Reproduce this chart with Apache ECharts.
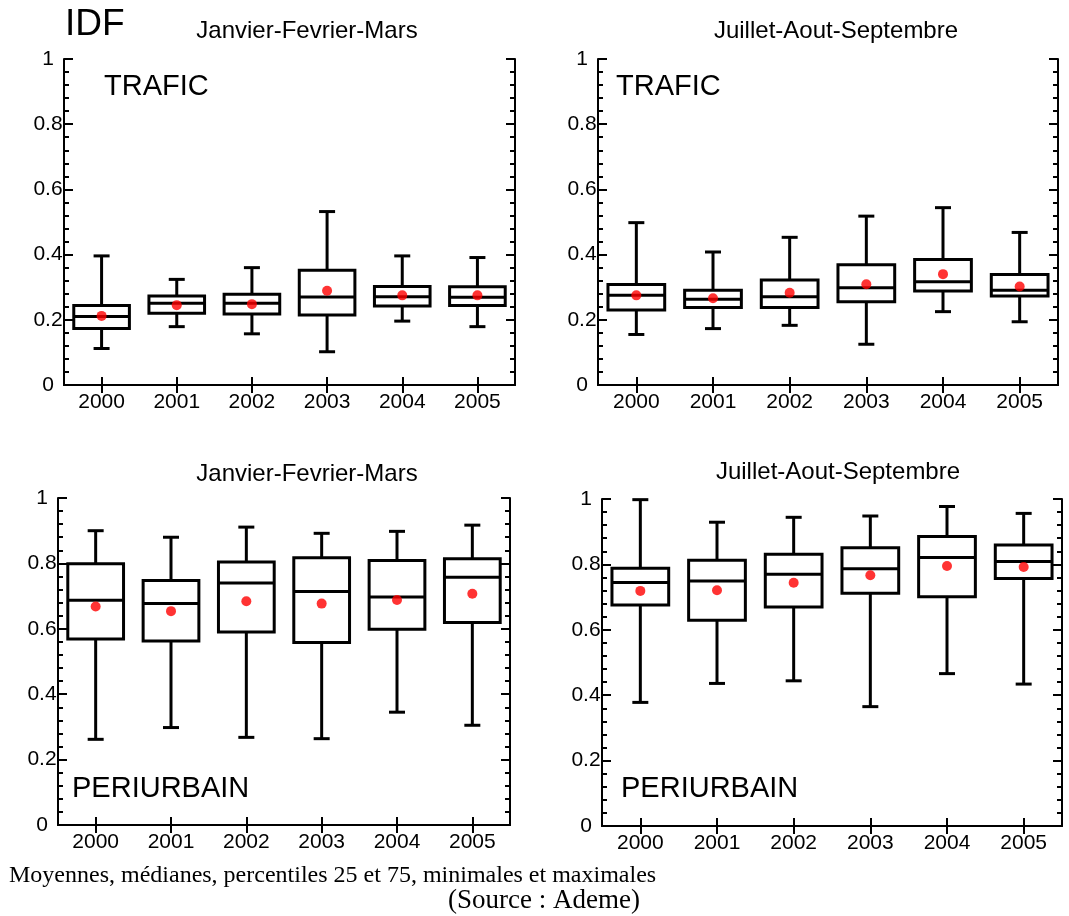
<!DOCTYPE html>
<html>
<head>
<meta charset="utf-8">
<script src="https://cdn.jsdelivr.net/npm/echarts@6/dist/echarts.min.js"></script>
<style>
	html, body {
		margin: 0;
		padding: 0;
		background: #fff;
	}

	#IdfChart {
		width: 1069px;
		height: 916px;
	}
</style>
</head>
<body>
<div id="IdfChart"></div>
<script>
	/* categories */
	const years = ['2000', '2001', '2002', '2003', '2004', '2005'];

	/* TRAFIC - Janvier-Fevrier-Mars */
	const trafJfmMin = [0.112, 0.179, 0.157, 0.102, 0.196, 0.179];
	const trafJfmQ1 = [0.173, 0.220, 0.218, 0.215, 0.242, 0.244];
	const trafJfmMed = [0.210, 0.251, 0.251, 0.270, 0.271, 0.269];
	const trafJfmQ3 = [0.244, 0.273, 0.278, 0.352, 0.302, 0.301];
	const trafJfmMax = [0.396, 0.324, 0.360, 0.532, 0.396, 0.391];
	const trafJfmMean = [0.212, 0.245, 0.248, 0.289, 0.275, 0.275];

	/* TRAFIC - Juillet-Aout-Septembre */
	const trafJasMin = [0.155, 0.173, 0.183, 0.125, 0.225, 0.194];
	const trafJasQ1 = [0.230, 0.238, 0.238, 0.255, 0.288, 0.273];
	const trafJasMed = [0.275, 0.263, 0.271, 0.298, 0.317, 0.291];
	const trafJasQ3 = [0.308, 0.291, 0.322, 0.369, 0.385, 0.339];
	const trafJasMax = [0.498, 0.408, 0.453, 0.518, 0.544, 0.468];
	const trafJasMean = [0.275, 0.266, 0.283, 0.309, 0.340, 0.302];

	/* PERIURBAIN - Janvier-Fevrier-Mars */
	const periJfmMin = [0.262, 0.298, 0.268, 0.264, 0.345, 0.305];
	const periJfmQ1 = [0.569, 0.563, 0.590, 0.558, 0.599, 0.619];
	const periJfmMed = [0.687, 0.677, 0.740, 0.714, 0.697, 0.758];
	const periJfmQ3 = [0.799, 0.748, 0.804, 0.817, 0.809, 0.814];
	const periJfmMax = [0.900, 0.880, 0.911, 0.892, 0.898, 0.917];
	const periJfmMean = [0.668, 0.654, 0.684, 0.677, 0.688, 0.707];

	/* PERIURBAIN - Juillet-Aout-Septembre */
	const periJasMin = [0.378, 0.436, 0.444, 0.365, 0.466, 0.434];
	const periJasQ1 = [0.676, 0.629, 0.670, 0.712, 0.701, 0.757];
	const periJasMed = [0.745, 0.749, 0.770, 0.787, 0.821, 0.809];
	const periJasQ3 = [0.788, 0.813, 0.831, 0.851, 0.885, 0.859];
	const periJasMax = [0.998, 0.929, 0.944, 0.948, 0.977, 0.956];
	const periJasMean = [0.719, 0.721, 0.744, 0.767, 0.795, 0.792];

	/* y tick values */
	const yMin = 0;
	const yMax = 1;
	const yStep = 0.2;

	const FONT = '"Liberation Sans", Arial, sans-serif';
	const SERIF = '"Liberation Serif", "Times New Roman", serif';

	let myChart;

	const panels = [
		{ grid: { left: 64, top: 59, width: 451, height: 326 }, s: [trafJfmMin, trafJfmQ1, trafJfmMed, trafJfmQ3, trafJfmMax, trafJfmMean] },
		{ grid: { left: 598, top: 59, width: 460, height: 326 }, s: [trafJasMin, trafJasQ1, trafJasMed, trafJasQ3, trafJasMax, trafJasMean] },
		{ grid: { left: 58, top: 498, width: 452, height: 327 }, s: [periJfmMin, periJfmQ1, periJfmMed, periJfmQ3, periJfmMax, periJfmMean] },
		{ grid: { left: 602, top: 499, width: 460, height: 327 }, s: [periJasMin, periJasQ1, periJasMed, periJasQ3, periJasMax, periJasMean] }
	];

	/* draw one box with whiskers */
	function renderBox(params, api) {
		let x = api.value(0);
		let lo = api.coord([x, api.value(1)]);
		let q1 = api.coord([x, api.value(2)]);
		let med = api.coord([x, api.value(3)]);
		let q3 = api.coord([x, api.value(4)]);
		let hi = api.coord([x, api.value(5)]);
		let half = api.size([1, 0])[0] * 0.37;
		let cap = 8;
		let cx = lo[0];
		let st = { stroke: '#000', lineWidth: 3, fill: null };
		return {
			type: 'group',
			children: [
				{ type: 'line', shape: { x1: cx, y1: lo[1], x2: cx, y2: q1[1] }, style: st },
				{ type: 'line', shape: { x1: cx, y1: hi[1], x2: cx, y2: q3[1] }, style: st },
				{ type: 'line', shape: { x1: cx - cap, y1: lo[1], x2: cx + cap, y2: lo[1] }, style: st },
				{ type: 'line', shape: { x1: cx - cap, y1: hi[1], x2: cx + cap, y2: hi[1] }, style: st },
				{ type: 'rect', shape: { x: cx - half, y: q3[1], width: half * 2, height: q1[1] - q3[1] }, style: { stroke: '#000', lineWidth: 3, fill: '#fff' } },
				{ type: 'line', shape: { x1: cx - half, y1: med[1], x2: cx + half, y2: med[1] }, style: st }
			]
		};
	}

	let grids = [];
	let xAxes = [];
	let yAxes = [];
	let series = [];

	panels.forEach((p, i) => {
		grids.push(Object.assign({ containLabel: false, outerBoundsMode: 'none' }, p.grid));
		['bottom', 'top'].forEach(pos => {
			xAxes.push({
				type: 'category',
				gridIndex: i,
				position: pos,
				data: years,
				axisLine: { show: true, lineStyle: { color: '#000', width: 2 } },
				axisTick: { show: true, inside: true, alignWithLabel: true, length: 8, lineStyle: { color: '#000', width: 2 } },
				axisLabel: { show: pos === 'bottom', color: '#000', fontFamily: FONT, fontSize: 21, margin: 7 },
				splitLine: { show: false }
			});
		});
		['left', 'right'].forEach(pos => {
			yAxes.push({
				type: 'value',
				gridIndex: i,
				position: pos,
				min: yMin,
				max: yMax,
				interval: yStep,
				axisLine: { show: true, lineStyle: { color: '#000', width: 2 } },
				axisTick: { show: true, inside: true, length: 9, lineStyle: { color: '#000', width: 2 } },
				minorTick: { show: true, splitNumber: 5, length: 5, lineStyle: { color: '#000', width: 2 } },
				axisLabel: { show: pos === 'left', color: '#000', fontFamily: FONT, fontSize: 21, margin: 16, align: 'center' },
				splitLine: { show: false },
				minorSplitLine: { show: false }
			});
		});
		let boxData = years.map((y, k) => [k, p.s[0][k], p.s[1][k], p.s[2][k], p.s[3][k], p.s[4][k]]);
		series.push({
			type: 'custom',
			xAxisIndex: i * 2,
			yAxisIndex: i * 2,
			renderItem: renderBox,
			encode: { x: 0, y: [1, 2, 3, 4, 5] },
			data: boxData,
			z: 2
		});
		series.push({
			type: 'scatter',
			xAxisIndex: i * 2,
			yAxisIndex: i * 2,
			symbol: 'circle',
			symbolSize: 10,
			itemStyle: { color: '#f00' },
			data: years.map((y, k) => [k, p.s[5][k]]),
			z: 5
		});
	});

	function label(text, left, top, size, font) {
		return {
			type: 'text',
			left: left,
			top: top,
			style: { text: text, fill: '#000', font: size + 'px ' + (font || FONT) }
		};
	}

	function centered(text, cx, cy, size) {
		return {
			type: 'text',
			x: cx,
			y: cy,
			style: { text: text, fill: '#000', font: size + 'px ' + FONT, align: 'center', verticalAlign: 'middle' }
		};
	}

	let option = {
		animation: false,
		backgroundColor: '#fff',
		grid: grids,
		xAxis: xAxes,
		yAxis: yAxes,
		series: series,
		graphic: [
			label('IDF', 65, 6, 37),
			centered('Janvier-Fevrier-Mars', 307, 31, 24),
			centered('Juillet-Aout-Septembre', 836, 31, 24),
			centered('Janvier-Fevrier-Mars', 307, 474, 24),
			centered('Juillet-Aout-Septembre', 838, 472, 24),
			label('TRAFIC', 104, 72, 29),
			label('TRAFIC', 616, 72, 29),
			label('PERIURBAIN', 72, 774, 29),
			label('PERIURBAIN', 621, 774, 29),
			label('Moyennes, médianes, percentiles 25 et 75, minimales et maximales', 9, 864, 24, SERIF),
			label('(Source : Ademe)', 448, 887, 27, SERIF)
		]
	};

	myChart = echarts.init(document.getElementById('IdfChart'));
	myChart.setOption(option);
</script>
</body>
</html>
